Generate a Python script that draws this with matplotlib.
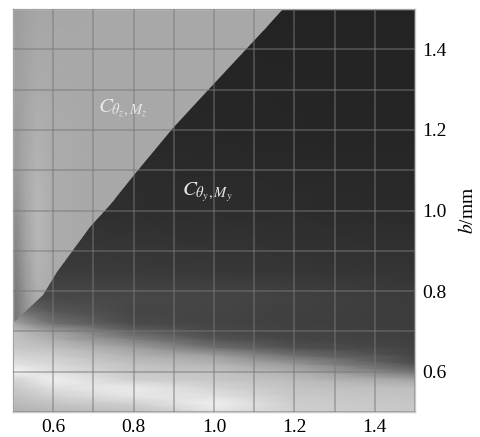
import numpy as np
import matplotlib
matplotlib.use('Agg')
import matplotlib.pyplot as plt
from matplotlib.patches import Polygon

plt.rcParams['font.family'] = 'Liberation Serif'
plt.rcParams['mathtext.fontset'] = 'stix'

# grey levels (0-255)

# dark region (C_theta_y,M_y) plus the bright band at the bottom
x_dark = [0.5, 0.6, 0.8, 1.0, 1.2, 1.5]
y_dark = [0.50, 0.52, 0.54, 0.56, 0.58, 0.60, 0.62, 0.64, 0.66, 0.68,
          0.70, 0.72, 0.75, 0.78, 0.85, 1.0, 1.2, 1.5]
g_dark = [
    [176, 184, 192, 225, 208, 200],
    [185, 195, 208, 240, 205, 198],
    [192, 210, 230, 225, 200, 195],
    [200, 225, 235, 212, 195, 190],
    [210, 240, 208, 200, 188, 165],
    [245, 225, 200, 195, 175, 115],
    [225, 215, 192, 180, 150, 78],
    [212, 205, 178, 160, 112, 70],
    [200, 192, 160, 112, 80, 66],
    [195, 175, 128, 85, 70, 64],
    [190, 160, 96, 72, 66, 62],
    [165, 112, 75, 68, 64, 60],
    [120, 88, 70, 68, 64, 60],
    [80, 74, 72, 70, 66, 60],
    [62, 60, 58, 56, 54, 52],
    [50, 48, 46, 45, 44, 42],
    [42, 41, 40, 39, 38, 37],
    [38, 37, 36, 36, 35, 35],
]

# light region (C_theta_z,M_z)
x_light = [0.5, 0.53, 0.56, 0.6, 0.7, 0.9, 1.2]
y_light = [0.7, 0.8, 0.9, 1.0, 1.1, 1.3, 1.5]
g_light = [
    [110, 140, 165, 168, 168, 168, 168],
    [115, 150, 175, 170, 168, 168, 168],
    [125, 160, 182, 172, 168, 168, 168],
    [138, 165, 184, 172, 168, 168, 168],
    [150, 168, 180, 172, 168, 168, 168],
    [158, 165, 172, 170, 168, 168, 168],
    [155, 162, 166, 167, 168, 168, 168],
]

# boundary between the two regions
bx = [0.5, 0.575, 0.609, 0.692, 0.741, 0.80, 0.899, 0.99, 1.09, 1.123, 1.172]
by = [0.722, 0.79, 0.848, 0.96, 1.014, 1.088, 1.204, 1.303, 1.41, 1.448, 1.5]

ticks = [0.6, 0.8, 1.0, 1.2, 1.4]
grid_pos = np.arange(0.5, 1.51, 0.1)

fig = plt.figure(figsize=(4.81, 4.37), dpi=100)
ax = fig.add_axes([0.027, 0.0572, 0.836, 0.922])

ax.pcolormesh(x_dark, y_dark, np.array(g_dark), shading='gouraud',
              cmap='gray', vmin=0, vmax=255, zorder=1)
ml = ax.pcolormesh(x_light, y_light, np.array(g_light), shading='gouraud',
                   cmap='gray', vmin=0, vmax=255, zorder=2)
poly = Polygon(list(zip(bx, by)) + [(0.5, 1.5)], closed=True,
               transform=ax.transData, facecolor='none', edgecolor='none')
ax.add_patch(poly)
ml.set_clip_path(poly)

ax.set_xlim(0.5, 1.5)
ax.set_ylim(0.5, 1.5)
for g in grid_pos:
    ax.axvline(g, color='#787878', lw=1.2, alpha=0.55, zorder=3)
    ax.axhline(g, color='#787878', lw=1.2, alpha=0.55, zorder=3)
ax.set_xticks(ticks)
ax.set_yticks(ticks)
ax.set_xticklabels(['%.1f' % t for t in ticks])
ax.set_yticklabels(['%.1f' % t for t in ticks])
ax.yaxis.tick_right()
ax.yaxis.set_label_position('right')
ax.tick_params(which='both', length=0, labelsize=14, pad=5)
ax.set_ylabel(r'$b$/mm', fontsize=14, labelpad=8)
for s in ax.spines.values():
    s.set_color('#c8c8c8')
    s.set_linewidth(1.0)

ax.text(0.774, 1.254, r'$C_{\theta_z,M_z}$', color='#e8e8e8', fontsize=15,
        ha='center', va='center', zorder=4)
ax.text(0.983, 1.046, r'$C_{\theta_y,M_y}$', color='#e8e8e8', fontsize=15,
        ha='center', va='center', zorder=4)

fig.savefig('out.png', dpi=100)
